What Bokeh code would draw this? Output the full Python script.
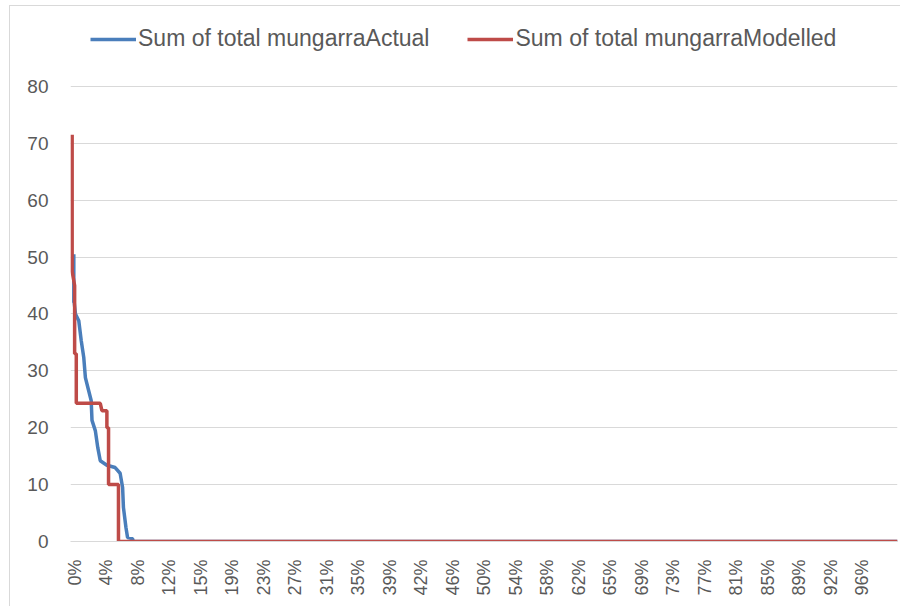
from bokeh.plotting import figure
from bokeh.models import FixedTicker, Legend, LegendItem, Range1d
from bokeh.embed import file_html
from bokeh.resources import INLINE

# Duration-curve data (x = fraction of time exceeded, y = value)
actual_x = [0.004, 0.004, 0.0045, 0.006, 0.010, 0.013, 0.016, 0.018, 0.022, 0.025, 0.026,
            0.030, 0.033, 0.036, 0.044, 0.054, 0.060, 0.063, 0.064, 0.067, 0.069, 0.075, 0.076, 1.0]
actual_y = [50.5, 42.0, 42.0, 40.0, 38.8, 35.3, 32.4, 28.8, 26.5, 24.8, 21.3,
            19.5, 16.5, 14.2, 13.4, 13.0, 12.0, 9.5, 6.0, 2.5, 0.7, 0.5, 0.0, 0.0]

modelled_x = [0.002, 0.002, 0.005, 0.005, 0.007, 0.007, 0.036, 0.038, 0.044, 0.044,
              0.046, 0.046, 0.058, 0.058, 1.0]
modelled_y = [71.5, 47.5, 45.0, 33.0, 33.0, 24.3, 24.3, 23.0, 23.0, 20.0,
              20.0, 10.0, 10.0, 0.0, 0.0]

tick_labels = ["0%", "4%", "8%", "12%", "15%", "19%", "23%", "27%", "31%", "35%", "39%",
               "42%", "46%", "50%", "54%", "58%", "62%", "65%", "69%", "73%", "77%",
               "81%", "85%", "89%", "92%", "96%"]
y_ticks = [0, 10, 20, 30, 40, 50, 60, 70, 80]

series_names = ["Sum of total mungarraActual", "Sum of total mungarraModelled"]
colors = ["#4A7EBB", "#BE4B48"]

tick_step = 0.0381
tick_pos = [0.005 + i * tick_step for i in range(len(tick_labels))]

# frame extends above the 80 gridline to hold the legend (no gridline drawn there)
p = figure(frame_width=827, frame_height=521, output_backend="svg", toolbar_location=None,
           x_range=Range1d(0, 1.0), y_range=Range1d(0, 91.6),
           min_border_left=60, min_border_right=3, min_border_top=14, min_border_bottom=65)
p.outline_line_color = None
p.background_fill_color = "white"
p.border_fill_color = "white"

r1 = p.line(actual_x, actual_y, line_color=colors[0], line_width=3.5)
r2 = p.line(modelled_x, modelled_y, line_color=colors[1], line_width=3.5)

p.xaxis.ticker = FixedTicker(ticks=tick_pos)
p.xaxis.major_label_overrides = {t: l for t, l in zip(tick_pos, tick_labels)}
p.xaxis.major_label_orientation = 1.5708
p.xaxis.major_label_text_font = "Liberation Sans"
p.xaxis.major_label_text_font_size = "18px"
p.xaxis.major_label_text_color = "#595959"
p.xaxis.major_tick_line_color = None
p.xaxis.minor_tick_line_color = None
p.xaxis.axis_line_color = "#D9D9D9"
p.xaxis.major_label_standoff = 12

p.yaxis.ticker = FixedTicker(ticks=y_ticks)
p.yaxis.major_label_text_font = "Liberation Sans"
p.yaxis.major_label_text_font_size = "19px"
p.yaxis.major_label_text_color = "#595959"
p.yaxis.major_tick_line_color = None
p.yaxis.minor_tick_line_color = None
p.yaxis.axis_line_color = None
p.yaxis.major_label_standoff = 16

p.xgrid.grid_line_color = None
p.ygrid.grid_line_color = "#D9D9D9"
p.ygrid.grid_line_width = 1

legend = Legend(items=[LegendItem(label=series_names[0], renderers=[r1]),
                       LegendItem(label=series_names[1], renderers=[r2])],
                orientation="horizontal", location=(20, 489),
                label_text_font="Liberation Sans", label_text_font_size="23px",
                label_text_color="#595959", glyph_width=46, glyph_height=22,
                label_standoff=2, spacing=38, padding=0, margin=0,
                border_line_color=None, background_fill_alpha=0)
p.add_layout(legend, "center")

p.styles = {"margin-left": "9px", "margin-top": "5px",
            "border-top": "1px solid #D9D9D9", "border-left": "1px solid #D9D9D9"}

open("out.html", "w").write(file_html(p, INLINE))
